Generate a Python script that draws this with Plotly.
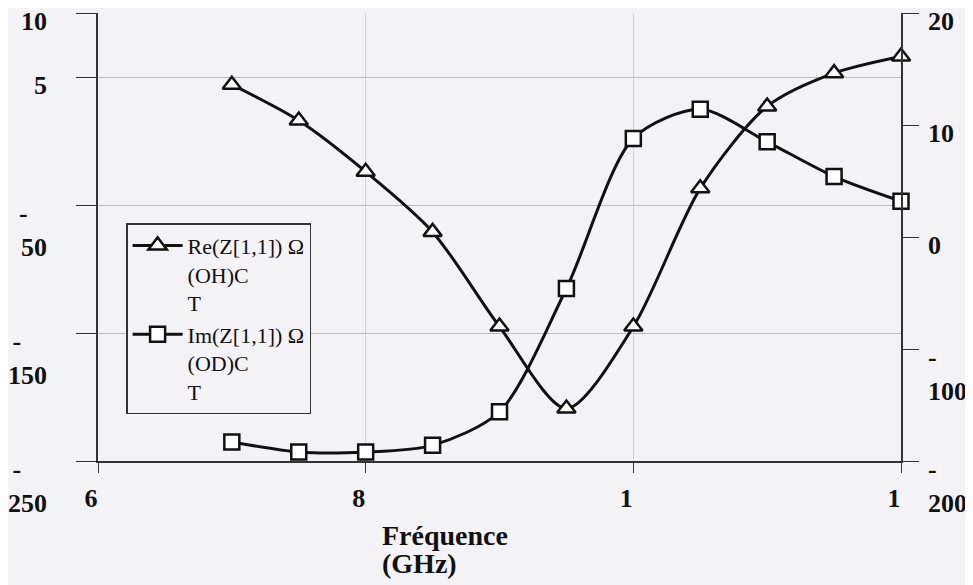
import plotly.graph_objects as go

# Data
freq_ghz = [7.0, 7.5, 8.0, 8.5, 9.0, 9.5, 10.0, 10.5, 11.0, 11.5, 12.0]
re_z11 = [4.4, 1.6, -2.4, -7.1, -14.5, -20.9, -14.5, -3.7, 2.7, 5.3, 6.6]
im_z11 = [-18.3, -19.2, -19.2, -18.6, -15.6, -4.6, 8.8, 11.4, 8.5, 5.4, 3.2]

x_tickvals = [6, 8, 10, 12]
x_ticktext = ["6", "8", "1", "1"]
left_tickvals = [10, 5, -5, -15, -25]
left_ticktext = ["10<br>\u00a0", "5<br>\u00a0", "-\u00a0\u00a0\u00a0<br>50",
                 "-\u00a0\u00a0\u00a0\u00a0<br>150", "-\u00a0\u00a0\u00a0\u00a0<br>250"]
right_tickvals = [20, 10, 0, -10, -20]
right_ticktext = ["20<br>\u00a0", "10<br>\u00a0", "0<br>\u00a0", "-<br>100", "-<br>200"]

re_name = "Re(Z[1,1]) Ω<br>(OH)C<br>T"
im_name = "Im(Z[1,1]) Ω<br>(OD)C<br>T"

SERIF = "Liberation Serif"
TICK_FONT = dict(family=SERIF, size=26, color="#111", weight="bold")
BG = "#f3f3f5"

fig = go.Figure()
fig.add_trace(go.Scatter(
    x=freq_ghz, y=re_z11, name=re_name, mode="lines+markers",
    line=dict(color="#111", width=3, shape="spline", smoothing=0.8),
    marker=dict(symbol="triangle-up", size=16, color="white",
                line=dict(color="#111", width=2.5)),
    cliponaxis=False, yaxis="y",
))
fig.add_trace(go.Scatter(
    x=freq_ghz, y=im_z11, name=im_name, mode="lines+markers",
    line=dict(color="#111", width=3, shape="spline", smoothing=0.8),
    marker=dict(symbol="square", size=15, color="white",
                line=dict(color="#111", width=2.5)),
    cliponaxis=False, yaxis="y2",
))

fig.update_layout(
    template="none",
    width=965, height=577,
    margin=dict(l=90, r=72, t=5, b=124, autoexpand=False),
    paper_bgcolor=BG, plot_bgcolor=BG,
    showlegend=True,
    legend=dict(
        x=0.035, y=0.531, xanchor="left", yanchor="top",
        bgcolor=BG, bordercolor="#333", borderwidth=1.5,
        font=dict(family=SERIF, size=22, color="#111"),
        valign="top", tracegroupgap=0, itemwidth=50,
    ),
    xaxis=dict(
        range=[6, 12], tickmode="array", tickvals=x_tickvals, ticktext=x_ticktext,
        tickfont=TICK_FONT, ticks="outside", ticklen=10, tickcolor="#333",
        showline=True, linecolor="#333", linewidth=1.5,
        showgrid=True, gridcolor="#d2d2d6", gridwidth=1,
        zeroline=False, automargin=False, ticklabelstandoff=3,
        ticklabelshift=-7, ticklabeloverflow="allow",
    ),
    yaxis=dict(
        range=[-25, 10], tickmode="array", tickvals=left_tickvals, ticktext=left_ticktext,
        tickfont=TICK_FONT, ticks="outside", ticklen=20, tickcolor="#333",
        showline=True, linecolor="#333", linewidth=1.5,
        showgrid=True, gridcolor="#bcbcc0", gridwidth=1,
        zeroline=False, automargin=False, ticklabelshift=25,
        ticklabelstandoff=24, ticklabeloverflow="allow",
    ),
    yaxis2=dict(
        range=[-20, 20], tickmode="array", tickvals=right_tickvals, ticktext=right_ticktext,
        tickfont=TICK_FONT, ticks="outside", ticklen=16, tickcolor="#333",
        overlaying="y", side="right",
        showline=True, linecolor="#333", linewidth=1.5,
        showgrid=False, zeroline=False, automargin=False, ticklabelshift=25,
        ticklabelstandoff=4, ticklabeloverflow="allow",
    ),
)

# x-axis title, two left-aligned lines as in the original
TITLE_FONT = dict(family=SERIF, size=28, color="#111")
fig.add_annotation(text="<b>Fréquence</b>", xref="paper", yref="paper",
                   x=(372 - 90) / 803, y=-(510 - 453) / 448, xanchor="left", yanchor="top",
                   showarrow=False, font=TITLE_FONT)
fig.add_annotation(text="<b>(GHz)</b>", xref="paper", yref="paper",
                   x=(372 - 90) / 803, y=-(538 - 453) / 448, xanchor="left", yanchor="top",
                   showarrow=False, font=TITLE_FONT)

fig.write_html("out.html")
